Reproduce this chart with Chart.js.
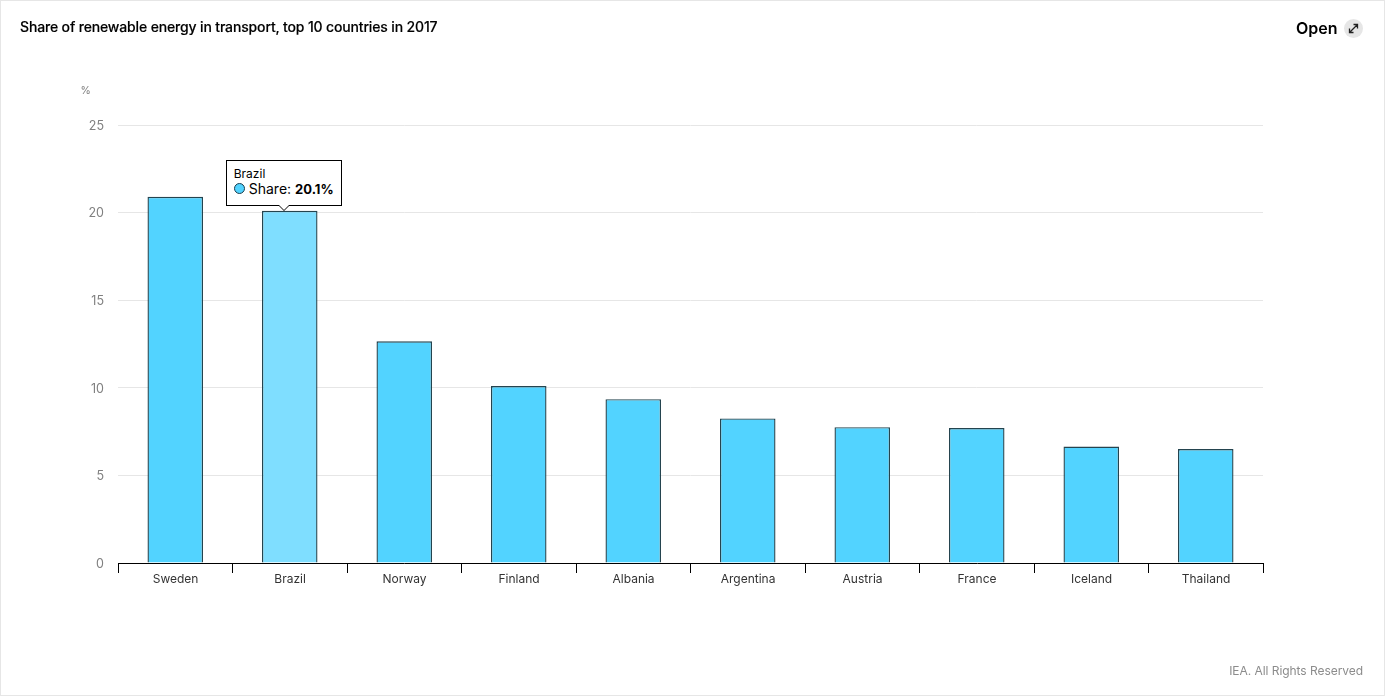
<!DOCTYPE html>
<html>
<head>
<meta charset="utf-8">
<script src="https://cdn.jsdelivr.net/npm/chart.js@4"></script>
<style>
html,body{margin:0;padding:0;background:#fff;overflow:hidden;width:1385px;height:698px;font-family:Inter,"Noto Sans",sans-serif;}
#card{position:absolute;left:0;top:0;width:1383px;height:694px;border:1px solid #e6e6e6;}
canvas{position:absolute;left:0;top:0;}
.t{position:absolute;white-space:nowrap;}
#title{left:20px;top:18px;font-size:14px;line-height:17px;font-weight:500;color:#000;letter-spacing:-.15px;-webkit-text-stroke:.15px #000;}
#open{left:1296px;top:19px;font-size:16px;line-height:19px;font-weight:600;color:#000;}
#icon{position:absolute;left:1344px;top:19px;width:19px;height:19px;border-radius:50%;background:#e6e6e6;}
#unit{left:80.5px;top:84px;font-size:10.5px;line-height:13px;color:#808080;}
#credit{right:22px;top:664px;font-size:12px;line-height:14px;color:#8c8c8c;letter-spacing:-.05px;}
#tip{position:absolute;background:#fff;border:1px solid #000;box-sizing:border-box;width:116px;height:46px;padding:6px 7px;color:#000;white-space:nowrap;pointer-events:none;}
#tip .h{font-size:12px;line-height:14px;}
#tip .b{font-size:14px;line-height:16px;display:flex;align-items:center;margin-top:0;}
#tip i{display:inline-block;width:9px;height:9px;flex:none;border:1px solid #1a3d4d;border-radius:50%;margin-right:4px;}
#tip b{font-weight:700;font-size:13px;margin-left:4px;}
#tip:after,#tip:before{content:"";position:absolute;left:50%;margin-left:-6px;bottom:-6px;border:6px solid transparent;border-bottom:0;border-top-color:#000;}
#tip:after{bottom:-5px;border-top-color:#fff;}
</style>
</head>
<body>
<div id="card"></div>
<canvas id="c" width="1385" height="696"></canvas>
<div class="t" id="title">Share of renewable energy in transport, top 10 countries in 2017</div>
<div class="t" id="open">Open</div>
<div id="icon"><svg width="19" height="19" viewBox="0 0 19 19"><path d="M6 13L13 6M9.5 5.5H13.5V9.5M5.5 9.5V13.5H9.5" fill="none" stroke="#222" stroke-width="1.3"/></svg></div>
<div class="t" id="unit">%</div>
<div class="t" id="credit">IEA. All Rights Reserved</div>
<div id="tip" style="display:none"><div class="h" id="tipH"></div><div class="b"><i id="tipC"></i><span id="tipL"></span><b id="tipV"></b></div></div>
<script>
const categories = ["Sweden","Brazil","Norway","Finland","Albania","Argentina","Austria","France","Iceland","Thailand"];
const shareValues = [20.9,20.1,12.65,10.1,9.35,8.25,7.75,7.7,6.65,6.5];
const yTicks = [0,5,10,15,20,25];
const seriesName = "Share";
const activeCategory = "Brazil";

function externalTip(ctx){
  const m = ctx.tooltip, el = document.getElementById('tip');
  if(!m.opacity || !m.dataPoints || !m.dataPoints.length){ el.style.display='none'; return; }
  const p = m.dataPoints[0];
  document.getElementById('tipH').textContent = p.label;
  document.getElementById('tipL').textContent = p.dataset.label + ':';
  document.getElementById('tipV').textContent = p.parsed.y.toFixed(1) + '%';
  document.getElementById('tipC').style.background = p.dataset.backgroundColor;
  el.style.display='block';
  el.style.left = (m.caretX - 64) + 'px';
  el.style.top = (m.caretY - 51) + 'px';
}

const chart = new Chart(document.getElementById('c'), {
  type:'bar',
  data:{labels:categories,datasets:[{
    label:seriesName,data:shareValues,
    backgroundColor:'#52d3ff',hoverBackgroundColor:'#7fdeff',
    borderColor:'#24444f',hoverBorderColor:'#24444f',borderWidth:1.4,hoverBorderWidth:1.4,
    barPercentage:0.485,categoryPercentage:1
  }]},
  options:{
    responsive:false,animation:false,
    layout:{padding:{left:0,right:122,top:125,bottom:0}},
    events:[],
    plugins:{legend:{display:false},title:{display:false},
      tooltip:{enabled:false,external:externalTip,position:'nearest',animation:false}},
    scales:{
      x:{
        afterFit(s){s.height=133;},
        grid:{display:true,drawOnChartArea:false,drawTicks:true,tickLength:10,color:'#000',tickColor:'#000',lineWidth:1},
        border:{display:true,color:'#000',width:1},
        ticks:{color:'#333',font:{family:'Inter',size:12},padding:-1,labelOffset:0.3,maxRotation:0,autoSkip:false}
      },
      y:{
        min:0,max:25,
        afterFit(s){s.width=118;},
        afterBuildTicks(s){s.ticks=yTicks.map(v=>({value:v}));},
        grid:{color:'#e6e6e6',lineWidth:1,drawTicks:false},
        border:{display:false},
        ticks:{color:'#808080',font:{family:'Inter',size:12.5},padding:14,labelOffset:1}
      }
    }
  }
});
const idx = categories.indexOf(activeCategory);
const el = chart.getDatasetMeta(0).data[idx];
chart.setActiveElements([{datasetIndex:0,index:idx}]);
chart.tooltip.setActiveElements([{datasetIndex:0,index:idx}],{x:el.x,y:el.y});
chart.update('none');
</script>
</body>
</html>
